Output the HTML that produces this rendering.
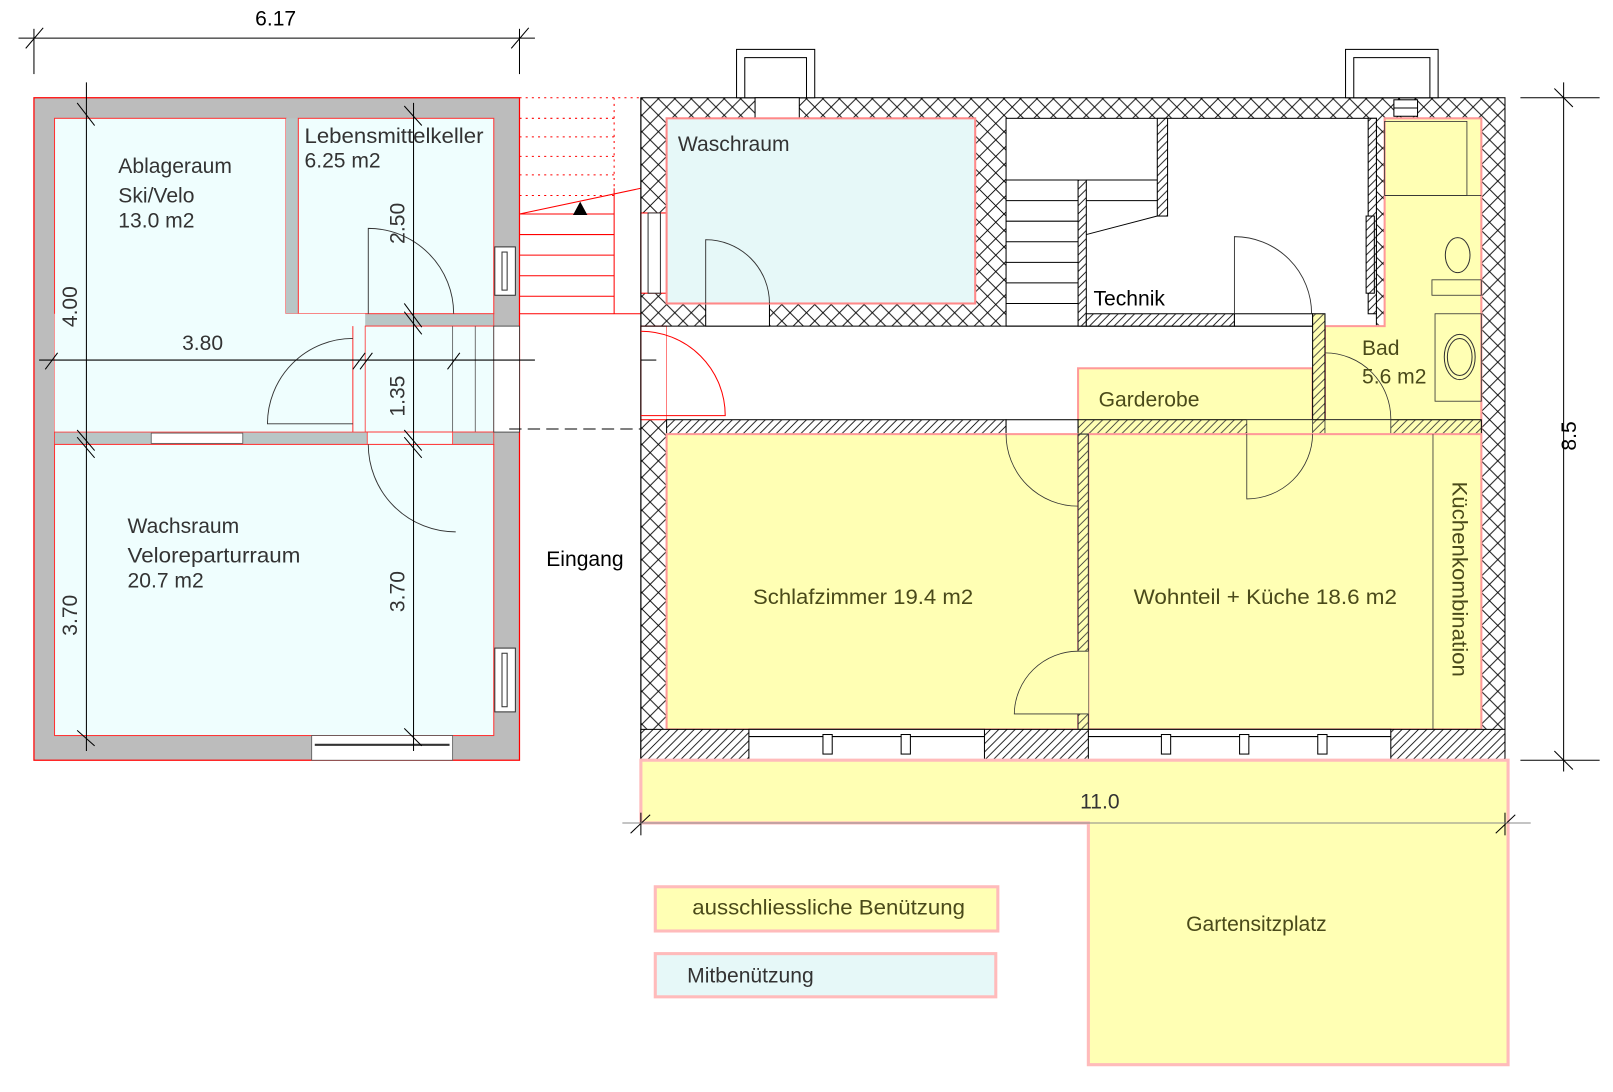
<!DOCTYPE html>
<html><head><meta charset="utf-8"><style>html,body{margin:0;padding:0;background:#fff}svg{display:block}text{font-family:"Liberation Sans",sans-serif}</style></head><body>
<svg width="1613" height="1092" viewBox="0 0 1568 1061.5" xmlns="http://www.w3.org/2000/svg">
<defs>
<pattern id="x" width="16" height="16" patternUnits="userSpaceOnUse"><rect width="16" height="16" fill="#fff"/><path d="M0 0L16 16M16 0L0 16" stroke="#000" stroke-width="0.9"/></pattern>
<pattern id="d" width="8" height="8" patternUnits="userSpaceOnUse"><rect width="8" height="8" fill="#fff"/><path d="M0 8L8 0M-2 2L2 -2M6 10L10 6" stroke="#000" stroke-width="0.8"/></pattern>
<pattern id="dy" width="8" height="8" patternUnits="userSpaceOnUse"><rect width="8" height="8" fill="#ffffb4"/><path d="M0 8L8 0M-2 2L2 -2M6 10L10 6" stroke="#333" stroke-width="0.8"/></pattern>
</defs>
<rect x="33" y="95" width="472" height="644" fill="#bcbcbc" stroke="#f00" stroke-width="1.2"/>
<rect x="53" y="115" width="225" height="305" fill="#effefe" stroke="#f33"/>
<rect x="278" y="115" width="12" height="190" fill="#b8c6c6"/>
<rect x="290" y="115" width="190" height="190" fill="#effefe" stroke="#f33"/>
<rect x="278" y="305" width="202" height="12" fill="#b8c6c6" stroke="#f33" stroke-width="0.8"/>
<rect x="53" y="305" width="302" height="115" fill="#effefe"/>
<rect x="355" y="317" width="125" height="103" fill="#effefe" stroke="#f33" stroke-width="0.8"/>
<line x1="343" y1="317" x2="343" y2="420" stroke="#f33"/>
<line x1="462" y1="317" x2="462" y2="420" stroke="#555" stroke-width="0.8"/>
<line x1="440" y1="317" x2="440" y2="420" stroke="#555" stroke-width="0.8"/>
<rect x="53" y="420" width="427" height="12" fill="#b8c6c6" stroke="#f33" stroke-width="0.8"/>
<rect x="147" y="421" width="89" height="10" fill="#fff" stroke="#555" stroke-width="0.8"/>
<rect x="357" y="420" width="83" height="12" fill="#effefe" stroke="#f33" stroke-width="0.8"/>
<rect x="53" y="432" width="427" height="283" fill="#effefe" stroke="#f33"/>
<rect x="303" y="715" width="137" height="24" fill="#fff" stroke="#555" stroke-width="0.8"/>
<line x1="306" y1="724" x2="437" y2="724" stroke="#333" stroke-width="2"/>
<rect x="481" y="240" width="20" height="47" fill="#fff" stroke="#333"/>
<rect x="488" y="245" width="5" height="37" fill="#fff" stroke="#333"/>
<rect x="481" y="630" width="20" height="62" fill="#fff" stroke="#333"/>
<rect x="488" y="635" width="5" height="52" fill="#fff" stroke="#333"/>
<rect x="480" y="317" width="25" height="103" fill="#fff" stroke="#333" stroke-width="0.8"/>
<path d="M358 305 L358 222 A83 83 0 0 1 441 305" fill="none" stroke="#333" stroke-width="0.9"/>
<path d="M343 412 L260 412 A83 83 0 0 1 343 329" fill="none" stroke="#333" stroke-width="0.9"/>
<path d="M358 432 A85 85 0 0 0 443 517" fill="none" stroke="#333" stroke-width="0.9"/>
<g stroke="#000" stroke-width="1">
<line x1="18" y1="37" x2="520" y2="37"/><line x1="33" y1="28" x2="33" y2="72"/><line x1="505" y1="28" x2="505" y2="72"/>
<line x1="25" y1="47" x2="42" y2="27"/><line x1="497" y1="47" x2="514" y2="27"/>
<line x1="84" y1="80" x2="84" y2="730"/><line x1="402" y1="100" x2="402" y2="730"/>
<line x1="38" y1="350" x2="520" y2="350"/>
<line x1="75" y1="100" x2="92" y2="122"/><line x1="393" y1="103" x2="410" y2="122"/>
<line x1="44" y1="359" x2="56" y2="343"/><line x1="343" y1="359" x2="355" y2="343"/><line x1="350" y1="359" x2="362" y2="343"/><line x1="435" y1="359" x2="447" y2="343"/>
<line x1="393" y1="295" x2="410" y2="318"/><line x1="393" y1="303" x2="410" y2="325"/>
<line x1="75" y1="418" x2="92" y2="438"/><line x1="75" y1="425" x2="92" y2="445"/>
<line x1="393" y1="418" x2="410" y2="438"/><line x1="393" y1="425" x2="410" y2="445"/>
<line x1="75" y1="710" x2="92" y2="725"/><line x1="393" y1="708" x2="410" y2="725"/>
</g>
<line x1="495" y1="417" x2="623" y2="417" stroke="#000" stroke-dasharray="12,6"/>
<rect x="623" y="95" width="840" height="644" fill="url(#x)" stroke="#000"/>
<rect x="623" y="207" width="25" height="78" fill="#fff"/><rect x="623" y="317" width="25" height="91" fill="#fff"/>
<g stroke="#f00" stroke-width="1" fill="none">
<g stroke-dasharray="2,4"><line x1="505" y1="95" x2="623" y2="95"/><line x1="505" y1="115" x2="597" y2="115"/><line x1="505" y1="133" x2="597" y2="133"/><line x1="505" y1="152" x2="597" y2="152"/><line x1="505" y1="170" x2="597" y2="170"/><line x1="505" y1="190" x2="597" y2="190"/><line x1="597" y1="95" x2="597" y2="183"/></g>
<line x1="505" y1="208" x2="597" y2="208"/><line x1="505" y1="228" x2="597" y2="228"/><line x1="505" y1="248" x2="597" y2="248"/><line x1="505" y1="268" x2="597" y2="268"/><line x1="505" y1="288" x2="597" y2="288"/><line x1="505" y1="305" x2="623" y2="305"/>
<line x1="597" y1="183" x2="597" y2="305"/><line x1="505" y1="208" x2="623" y2="183"/>
<rect x="623" y="207" width="25" height="78"/><rect x="623" y="317" width="25" height="91"/>
</g>
<path d="M557 209 L564 196 L571 209Z" fill="#000"/>
<line x1="623" y1="95" x2="623" y2="739" stroke="#000"/>
<rect x="716" y="48" width="76" height="47" fill="#fff" stroke="#000"/><rect x="724" y="56" width="60" height="39" fill="#fff" stroke="#000"/>
<rect x="1308" y="48" width="90" height="47" fill="#fff" stroke="#000"/><rect x="1316" y="56" width="74" height="39" fill="#fff" stroke="#000"/>
<rect x="734" y="95" width="43" height="20" fill="#fff" stroke="#000"/>
<rect x="1355" y="97" width="23" height="16" fill="#fff" stroke="#000"/><line x1="1355" y1="105" x2="1378" y2="105" stroke="#000"/>
<rect x="630" y="207" width="12" height="78" fill="#fff" stroke="#333"/>
<rect x="648" y="317" width="628" height="91" fill="#fff"/>
<path d="M623 322 A82 82 0 0 1 705 404 L623 404" fill="none" stroke="#f00"/>
<line x1="623" y1="350" x2="638" y2="350" stroke="#000"/>
<rect x="978" y="115" width="360" height="202" fill="#fff" stroke="#000"/>
<line x1="623" y1="317" x2="1276" y2="317" stroke="#000"/>
<rect x="686" y="295" width="62" height="22" fill="#fff" stroke="#000"/>
<rect x="648" y="115" width="300" height="180" fill="#e6f8f8" stroke="#f88" stroke-width="2"/>
<path d="M686 295 L686 233 A62 62 0 0 1 748 295" fill="none" stroke="#333" stroke-width="0.9"/>
<g stroke="#000"><line x1="978" y1="175" x2="1048" y2="175"/><line x1="978" y1="195" x2="1048" y2="195"/><line x1="978" y1="215" x2="1048" y2="215"/><line x1="978" y1="235" x2="1048" y2="235"/><line x1="978" y1="255" x2="1048" y2="255"/><line x1="978" y1="275" x2="1048" y2="275"/><line x1="978" y1="295" x2="1048" y2="295"/>
<line x1="1056" y1="175" x2="1125" y2="175"/><line x1="1056" y1="195" x2="1125" y2="195"/><line x1="1056" y1="228" x2="1125" y2="210"/></g>
<rect x="1048" y="175" width="8" height="142" fill="url(#d)" stroke="#000"/>
<rect x="1125" y="115" width="10" height="95" fill="url(#d)" stroke="#000"/>
<rect x="1056" y="305" width="144" height="12" fill="url(#d)" stroke="#000"/>
<rect x="1200" y="305" width="76" height="12" fill="#fff" stroke="#000"/>
<path d="M1200 305 L1200 230 A75 75 0 0 1 1275 305" fill="none" stroke="#333" stroke-width="0.9"/>
<rect x="1330" y="115" width="8" height="190" fill="url(#d)" stroke="#000"/>
<rect x="1328" y="210" width="8" height="75" fill="url(#d)" stroke="#000"/>
<path d="M1346 115 H1440 V420 H1288 V317 H1346Z" fill="#ffffb4" stroke="#f99" stroke-width="2"/>
<rect x="1346" y="118" width="80" height="72" fill="none" stroke="#333" stroke-width="0.8"/>
<line x1="1346" y1="190" x2="1440" y2="190" stroke="#333" stroke-width="0.8"/>
<ellipse cx="1417" cy="248" rx="12" ry="17" fill="none" stroke="#333"/><rect x="1392" y="272" width="48" height="15" fill="none" stroke="#333" stroke-width="0.8"/>
<rect x="1395" y="305" width="45" height="85" fill="none" stroke="#333" stroke-width="0.8"/>
<ellipse cx="1419" cy="347" rx="15" ry="22" fill="none" stroke="#333"/><ellipse cx="1419" cy="347" rx="12" ry="18" fill="none" stroke="#333"/>
<rect x="1048" y="358" width="228" height="62" fill="#ffffb4" stroke="#f99" stroke-width="2"/>
<rect x="1276" y="305" width="12" height="115" fill="url(#dy)" stroke="#000"/>
<rect x="648" y="408" width="330" height="14" fill="url(#d)" stroke="#000"/>
<rect x="978" y="408" width="70" height="14" fill="#fff" stroke="#000"/>
<rect x="1048" y="408" width="392" height="14" fill="url(#dy)" stroke="#000"/>
<rect x="1212" y="408" width="64" height="14" fill="#ffffb4" stroke="#333" stroke-width="0.8"/>
<rect x="1288" y="408" width="64" height="14" fill="#ffffb4" stroke="#333" stroke-width="0.8"/>
<path d="M1288 343 A64 64 0 0 1 1352 408" fill="none" stroke="#333" stroke-width="0.8"/>
<rect x="648" y="422" width="400" height="287" fill="#ffffb4" stroke="#f99" stroke-width="2"/>
<rect x="1058" y="422" width="382" height="287" fill="#ffffb4" stroke="#f99" stroke-width="2"/>
<rect x="1048" y="422" width="10" height="287" fill="url(#dy)" stroke="#333"/>
<line x1="1393" y1="422" x2="1393" y2="709" stroke="#333" stroke-width="0.8"/>
<path d="M978 422 A70 70 0 0 0 1048 492" fill="none" stroke="#333" stroke-width="0.8"/>
<path d="M1212 422 V485 A64 64 0 0 0 1276 422" fill="none" stroke="#333" stroke-width="0.8"/>
<path d="M1058 633 H1048 A62 62 0 0 0 986 694 H1058" fill="#ffffb4" stroke="#333" stroke-width="0.8"/>
<rect x="623" y="709" width="840" height="30" fill="url(#d)" stroke="#000"/>
<rect x="728" y="709" width="229" height="30" fill="#fff" stroke="#000"/>
<rect x="1058" y="709" width="294" height="30" fill="#fff" stroke="#000"/>
<g stroke="#000" fill="#fff"><line x1="728" y1="716" x2="957" y2="716"/><line x1="1058" y1="716" x2="1352" y2="716"/>
<rect x="800" y="714" width="9" height="19"/><rect x="876" y="714" width="9" height="19"/><rect x="1129" y="714" width="9" height="19"/><rect x="1205" y="714" width="9" height="19"/><rect x="1281" y="714" width="9" height="19"/></g>
<path d="M623 739 H1466 V1035 H1058 V800 H623Z" fill="#ffffb4" stroke="#fbb" stroke-width="3"/>
<g stroke="#000"><line x1="1520" y1="80" x2="1520" y2="750"/><line x1="1478" y1="95" x2="1555" y2="95"/><line x1="1478" y1="739" x2="1555" y2="739"/>
<line x1="1511" y1="86" x2="1529" y2="104"/><line x1="1511" y1="730" x2="1529" y2="748"/>
<line x1="623" y1="790" x2="623" y2="812"/><line x1="1463" y1="790" x2="1463" y2="812"/><line x1="613" y1="810" x2="632" y2="792"/><line x1="1454" y1="810" x2="1473" y2="792"/></g>
<line x1="605" y1="800" x2="1488" y2="800" stroke="#888"/>
<rect x="637" y="862" width="333" height="43" fill="#ffffb4" stroke="#fbb" stroke-width="3"/>
<rect x="637" y="927" width="331" height="42" fill="#e6f8f8" stroke="#fbb" stroke-width="3"/>
<g font-size="20.5" fill="#333">
<text x="248" y="25" fill="#000">6.17</text>
<text x="115" y="168">Ablageraum</text><text x="115" y="197">Ski/Velo</text><text x="115" y="221">13.0 m2</text>
<text x="296" y="139" textLength="174" lengthAdjust="spacingAndGlyphs">Lebensmittelkeller</text><text x="296" y="163">6.25 m2</text>
<text x="177" y="340">3.80</text>
<text x="124" y="518">Wachsraum</text><text x="124" y="547" textLength="168" lengthAdjust="spacingAndGlyphs">Veloreparturraum</text><text x="124" y="571">20.7 m2</text>
<text transform="translate(75,318) rotate(-90)">4.00</text>
<text transform="translate(75,618) rotate(-90)">3.70</text>
<text transform="translate(393,237) rotate(-90)">2.50</text>
<text transform="translate(393,405) rotate(-90)">1.35</text>
<text transform="translate(393,595) rotate(-90)">3.70</text>
<text x="659" y="147">Waschraum</text>
<text x="1063" y="297" fill="#000">Technik</text>
<text x="531" y="550" fill="#000">Eingang</text>
<text transform="translate(1532,438) rotate(-90)" fill="#000">8.5</text>
<text x="1050" y="786">11.0</text>
<text x="668" y="955">Mitbenützung</text>
</g>
<g font-size="20.5" fill="#4a4a1a">
<text x="1324" y="345">Bad</text><text x="1324" y="373">5.6 m2</text>
<text x="1068" y="395">Garderobe</text>
<text x="732" y="587" textLength="214" lengthAdjust="spacingAndGlyphs">Schlafzimmer 19.4 m2</text>
<text x="1102" y="587" textLength="256" lengthAdjust="spacingAndGlyphs">Wohnteil + Küche 18.6 m2</text>
<text transform="translate(1412,468) rotate(90)" textLength="190" lengthAdjust="spacingAndGlyphs">Küchenkombination</text>
<text x="1153" y="905">Gartensitzplatz</text>
<text x="673" y="889" textLength="265" lengthAdjust="spacingAndGlyphs">ausschliessliche Benützung</text>
</g>
</svg>
</body></html>
